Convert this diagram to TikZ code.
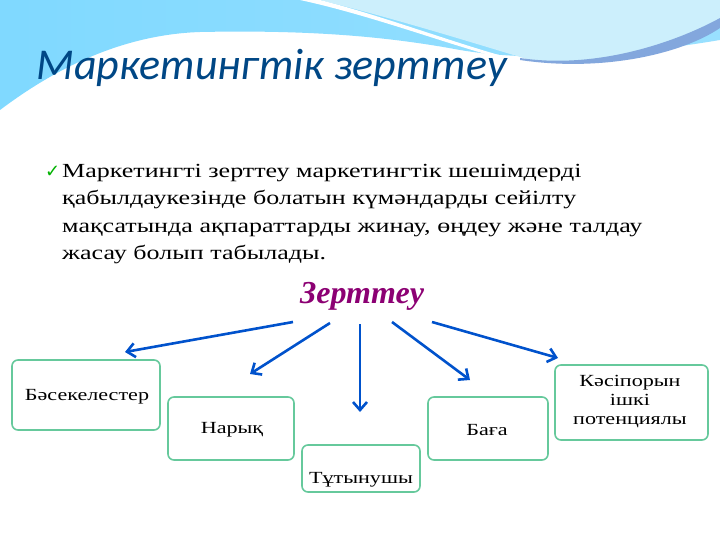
\documentclass[tikz,border=0pt]{standalone}
\usepackage{fontspec}
\usetikzlibrary{arrows.meta}
\setmainfont{Liberation Serif}[FakeStretch=1.3]
\newfontfamily\zfont{Liberation Serif}
\newfontfamily\titlefont{Carlito}
\newfontfamily\symfont{DejaVu Sans}
\begin{document}
\begin{tikzpicture}[x=1pt,y=-1pt,
  box/.style={draw=teal!70!green!60, line width=1.6pt, rounded corners=6pt, fill=white},
  arr/.style={draw=blue!60!cyan!80!black, line width=2.6pt, -{Straight Barb[length=8pt,width=14pt]}},
  lbl/.style={font=\fontsize{17}{19}\selectfont, align=center}]
\useasboundingbox (0,0) rectangle (720,540);
\fill[white] (0,0) rectangle (720,540);
% waves
\shade[left color=cyan!70!blue!50, right color=blue!30!cyan!40] (0,0) -- (720,0) -- (720,40) .. controls (600,60) and (520,60) .. (460,50) .. controls (380,35) and (300,30) .. (200,32) .. controls (110,35) and (40,80) .. (0,110) -- cycle;
\fill[cyan!20] (320,0) .. controls (400,20) and (480,45) .. (530,60) .. controls (600,70) and (680,50) .. (720,20) -- (720,0) -- cycle;
\fill[cyan!50!blue!50] (520,58) .. controls (600,70) and (680,40) .. (720,18) -- (720,28) .. controls (680,55) and (600,72) .. (520,60) -- cycle;
\fill[white] (320,0) .. controls (380,15) and (460,45) .. (510,58) -- (500,58) .. controls (450,45) and (370,15) .. (300,0) -- cycle;
% title
\node[anchor=west, font=\titlefont\itshape\fontsize{44}{46}\selectfont, text=teal!70!blue!80!black] (title) at (33,68) {Маркетингтік зерттеу};
% bullet
\node[anchor=north west, text=green!70!black, font=\symfont\fontsize{18}{20}\selectfont, inner sep=0pt] (chk) at (45,166) {✓};
\node[anchor=north west, align=left, text width=640pt, font=\fontsize{20}{27.5}\selectfont, inner sep=0pt] (txt) at (62,164) {Маркетингті зерттеу маркетингтік шешімдерді\\қабылдаукезінде болатын күмәндарды сейілту\\мақсатында ақпараттарды жинау, өңдеу және талдау\\жасау болып табылады.};
\node[font=\zfont\bfseries\itshape\fontsize{32}{34}\selectfont, text=violet!80!purple] (z) at (362,296) {Зерттеу};
% boxes
\draw[box] (12,360) rectangle (160,430); \node[lbl] (b1) at (87,397) {Бәсекелестер};
\draw[box] (168,397) rectangle (294,460); \node[lbl] (b2) at (232,430) {Нарық};
\draw[box] (302,445) rectangle (420,492); \node[lbl] (b3) at (361,480) {Тұтынушы};
\draw[box] (428,397) rectangle (548,460); \node[lbl] (b4) at (487,430) {Баға};
\draw[box] (555,365) rectangle (708,440); \node[lbl] (b5) at (630,402) {Кәсіпорын\\ішкі\\потенциялы};
\coordinate (e1) at (125,352); \coordinate (e2) at (250,374); \coordinate (e3) at (360,412);
\coordinate (e4) at (470,380); \coordinate (e5) at (558,358);
\coordinate (s1) at (293,322); \coordinate (s2) at (330,323); \coordinate (s3) at (360,324);
\coordinate (s4) at (392,322); \coordinate (s5) at (432,322);
\draw[arr] (s1) -- (e1);
\draw[arr] (s2) -- (e2);
\draw[arr] (s3) -- (e3);
\draw[arr] (s4) -- (e4);
\draw[arr] (s5) -- (e5);
\end{tikzpicture}
\end{document}
